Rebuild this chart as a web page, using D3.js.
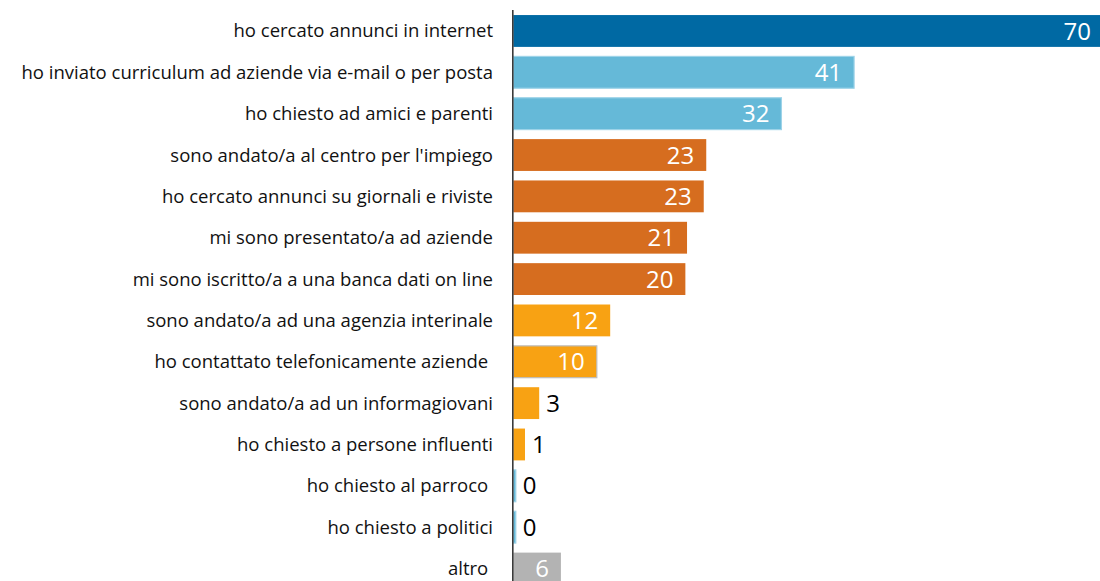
<!DOCTYPE html>
<html>
<head>
<meta charset="utf-8">
<script src="https://cdn.jsdelivr.net/npm/d3@7"></script>
<style>
  html, body { margin: 0; padding: 0; background: #fff; }
  svg { display: block; }
  text { white-space: pre; }
</style>
</head>
<body>
<svg id="chart" width="1100" height="581"></svg>
<script>
const categories = [
  "ho cercato annunci in internet",
  "ho inviato curriculum ad aziende via e-mail o per posta",
  "ho chiesto ad amici e parenti",
  "sono andato/a al centro per l'impiego",
  "ho cercato annunci su giornali e riviste",
  "mi sono presentato/a ad aziende",
  "mi sono iscritto/a a una banca dati on line",
  "sono andato/a ad una agenzia interinale",
  "ho contattato telefonicamente aziende ",
  "sono andato/a ad un informagiovani",
  "ho chiesto a persone influenti",
  "ho chiesto al parroco ",
  "ho chiesto a politici",
  "altro "
];
const values = [70.6, 40.8, 32.1, 23.1, 22.8, 20.8, 20.6, 11.6, 10.0, 3.1, 1.4, 0.3, 0.3, 5.7];
const valueLabels = ["70", "41", "32", "23", "23", "21", "20", "12", "10", "3", "1", "0", "0", "6"];
const groups = ["dark", "light", "light", "orange", "orange", "orange", "orange", "amber", "amber10", "amber", "amber", "light", "light", "grey"];

const fills = { dark: "#0069A3", light: "#65B9D8", orange: "#D66D1F", amber: "#F8A213", amber10: "#F8A213", grey: "#B3B3B3" };
const strokes = { dark: "none", light: "#9DD3E8", orange: "none", amber: "none", amber10: "#BDBDBD", grey: "none" };

const svg = d3.select("#chart");
const x0 = 513.3;
const x = d3.scaleLinear().domain([0, 70.6]).range([x0, 1103]);
const y = d3.scaleBand().domain(categories).range([10.3, 589.2]).paddingInner(0.23).paddingOuter(0.115);

const data = categories.map((c, i) => ({ c, v: values[i], lab: valueLabels[i], g: groups[i] }));

svg.append("g").selectAll("rect").data(data).join("rect")
  .attr("x", x0)
  .attr("y", d => y(d.c))
  .attr("width", d => x(d.v) - x0)
  .attr("height", y.bandwidth())
  .attr("fill", d => fills[d.g])
  .attr("stroke", d => strokes[d.g])
  .attr("stroke-width", 1.2);

// category labels
svg.append("g").selectAll("text").data(data).join("text")
  .attr("x", 493)
  .attr("y", d => y(d.c) + y.bandwidth() / 2)
  .attr("text-anchor", "end")
  .attr("dy", "0.35em")
  .attr("font-family", "'Open Sans', sans-serif")
  .attr("font-size", 18.5)
  .attr("fill", "#111")
  .text(d => d.c);

// value labels
const inside = d => (x(d.v) - x0) > 40;
svg.append("g").selectAll("text").data(data).join("text")
  .attr("x", d => inside(d) ? x(d.v) - 12 : x(d.v) + 7)
  .attr("y", d => y(d.c) + y.bandwidth() / 2)
  .attr("text-anchor", d => inside(d) ? "end" : "start")
  .attr("dy", "0.36em")
  .attr("font-family", "'Open Sans', sans-serif")
  .attr("font-size", 24)
  .attr("fill", d => inside(d) ? "#fff" : "#000")
  .text(d => d.lab);

// axis line
svg.append("line")
  .attr("x1", x0 - 0.5).attr("x2", x0 - 0.5)
  .attr("y1", 10).attr("y2", 590)
  .attr("stroke", "#3a3a3a")
  .attr("stroke-width", 1.6);
</script>
</body>
</html>
